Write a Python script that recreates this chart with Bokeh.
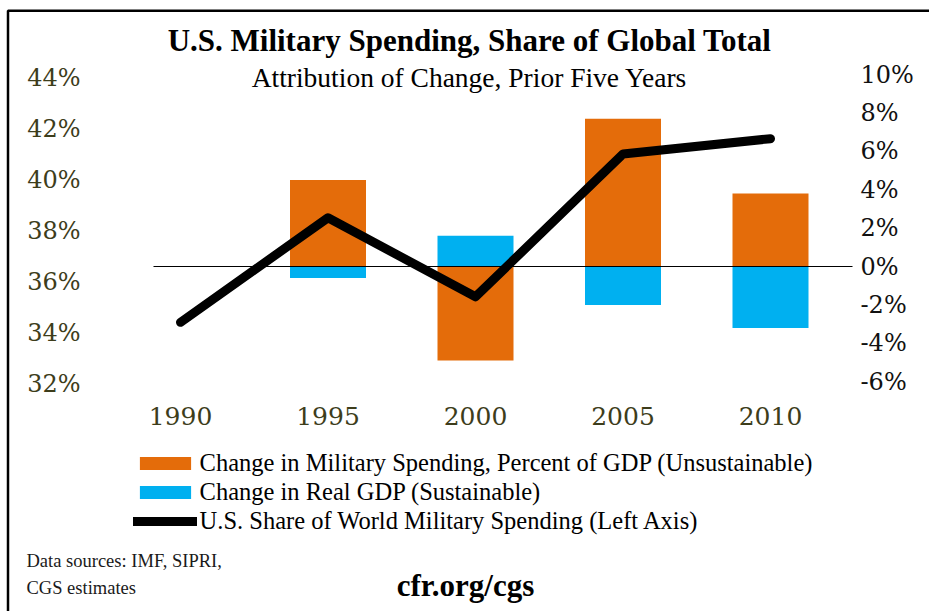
from bokeh.plotting import figure
from bokeh.models import (Range1d, LinearAxis, FixedTicker, PrintfTickFormatter,
                          Label, Legend, LegendItem, BoxAnnotation)
from bokeh.embed import file_html
from bokeh.resources import INLINE

# ---- data ----
years = [1990, 1995, 2000, 2005, 2010]
us_share = [34.4, 38.5, 35.4, 41.0, 41.6]          # % (left axis)
bar_years = [1995, 2000, 2005, 2010]
mil_change = [4.5, -4.9, 7.7, 3.8]                 # % (right axis)
gdp_change = [-0.6, 1.6, -2.0, -3.2]               # % (right axis)
left_ticks = [32, 34, 36, 38, 40, 42, 44]
right_ticks = [-6, -4, -2, 0, 2, 4, 6, 8, 10]

title = "U.S. Military Spending, Share of Global Total"
subtitle = "Attribution of Change, Prior Five Years"
legend_labels = ["Change in Military Spending, Percent of GDP (Unsustainable)",
                 "Change in Real GDP (Sustainable)",
                 "U.S. Share of World Military Spending (Left Axis)"]
source_lines = ["Data sources: IMF, SIPRI,", "CGS estimates"]
site = "cfr.org/cgs"

ORANGE = "#E46C0A"
BLUE = "#00B0F0"
OLIVE = "#3D3D1B"
SERIF = "Liberation Serif"
NUMF = "DejaVu Serif"

# ---- layout geometry (pixels) ----
W, H = 929, 611
PX_YEAR = 29.5          # px per year
X1990 = 180             # px of first category
PX_L, Y32 = 25.5, 383   # left axis: px per %, px of 32%
PX_R, Y0 = 19.2, 266    # right axis: px per %, px of 0%
AX_L, AX_R = 153, 852   # px of the plot area's left/right edges

def px_x(px):
    return 1990 + (px - X1990) / PX_YEAR

p = figure(width=W, height=H, output_backend="svg", toolbar_location=None,
           x_range=Range1d(px_x(0), px_x(W)),
           y_range=Range1d(32 - (H - Y32) / PX_L, 32 + Y32 / PX_L),
           min_border_left=0, min_border_right=0, min_border_top=0, min_border_bottom=0,
           background_fill_color="white", border_fill_color="white")
p.outline_line_color = None
p.xgrid.visible = False
p.ygrid.visible = False
p.extra_y_ranges = {"right": Range1d(-(H - Y0) / PX_R, Y0 / PX_R)}

# bars
bw = 76 / PX_YEAR
r_mil = p.vbar(x=bar_years, top=mil_change, bottom=0, width=bw, y_range_name="right",
               fill_color=ORANGE, line_color=None)
r_gdp = p.vbar(x=bar_years, top=gdp_change, bottom=0, width=bw, y_range_name="right",
               fill_color=BLUE, line_color=None)
# zero line of the right axis, across the plot area
p.segment(x0=[px_x(AX_L)], x1=[px_x(AX_R)], y0=[0], y1=[0], y_range_name="right",
          line_color="black", line_width=1.2)
r_line = p.line(x=years, y=us_share, line_color="black", line_width=9,
                line_cap="round", line_join="round")

# axes
def style_axis(ax, size, color):
    ax.axis_line_color = None
    ax.major_tick_line_color = None
    ax.minor_tick_line_color = None
    ax.major_tick_out = 0
    ax.major_tick_in = 0
    ax.minor_tick_out = 0
    ax.minor_tick_in = 0
    ax.major_label_text_font = NUMF
    ax.major_label_text_font_size = size
    ax.major_label_text_color = color

la = p.yaxis[0]
la.ticker = FixedTicker(ticks=left_ticks)
la.formatter = PrintfTickFormatter(format="%d%%")
la.fixed_location = px_x(AX_L)
style_axis(la, "24px", OLIVE)
la.major_label_standoff = 73

ra = LinearAxis(y_range_name="right", ticker=FixedTicker(ticks=right_ticks),
                formatter=PrintfTickFormatter(format="%d%%"))
ra.fixed_location = px_x(AX_R)
style_axis(ra, "24px", "#111111")
ra.major_label_standoff = 8
p.add_layout(ra, "right")

xa = p.xaxis[0]
xa.ticker = FixedTicker(ticks=years)
xa.formatter = PrintfTickFormatter(format="%d")
xa.fixed_location = 32
style_axis(xa, "25px", OLIVE)
xa.major_label_standoff = 23

# legend
legend = Legend(items=[LegendItem(label=legend_labels[0], renderers=[r_mil]),
                       LegendItem(label=legend_labels[1], renderers=[r_gdp]),
                       LegendItem(label=legend_labels[2], renderers=[r_line])],
                location=(132.6, H - 534.5), orientation="vertical",
                glyph_width=64, glyph_height=16, label_standoff=3, spacing=1,
                padding=0, margin=0, border_line_color=None, background_fill_alpha=0,
                label_text_font=SERIF, label_text_font_size="24.5px",
                label_text_color="black")
p.add_layout(legend, "center")

# texts (screen px; y given from the top, vertical middle of the text)
def lab(text, x, y_top, size, bold=False, align="left", color="black"):
    p.add_layout(Label(x=x, y=H - y_top, x_units="screen", y_units="screen", text=text,
                       text_font=SERIF, text_font_size=size,
                       text_font_style="bold" if bold else "normal",
                       text_align=align, text_baseline="middle", text_color=color))

lab(title, 469, 40, "31px", bold=True, align="center")
lab(subtitle, 469, 77, "27.5px", align="center")
lab(source_lines[0], 26, 560, "18.5px", color="#1a1a1a")
lab(source_lines[1], 26, 587, "18.5px", color="#1a1a1a")
lab(site, 465, 585, "31px", bold=True, align="center")

# surrounding box edges (left and top)
p.add_layout(BoxAnnotation(left=px_x(7.5), right=px_x(W + 50),
                           top=32 + (Y32 - 10.3) / PX_L, bottom=32 - (H + 50 - Y32) / PX_L,
                           fill_alpha=0, line_color="black", line_alpha=1.0,
                           line_width=2.5))

open("out.html", "w").write(file_html(p, INLINE))
